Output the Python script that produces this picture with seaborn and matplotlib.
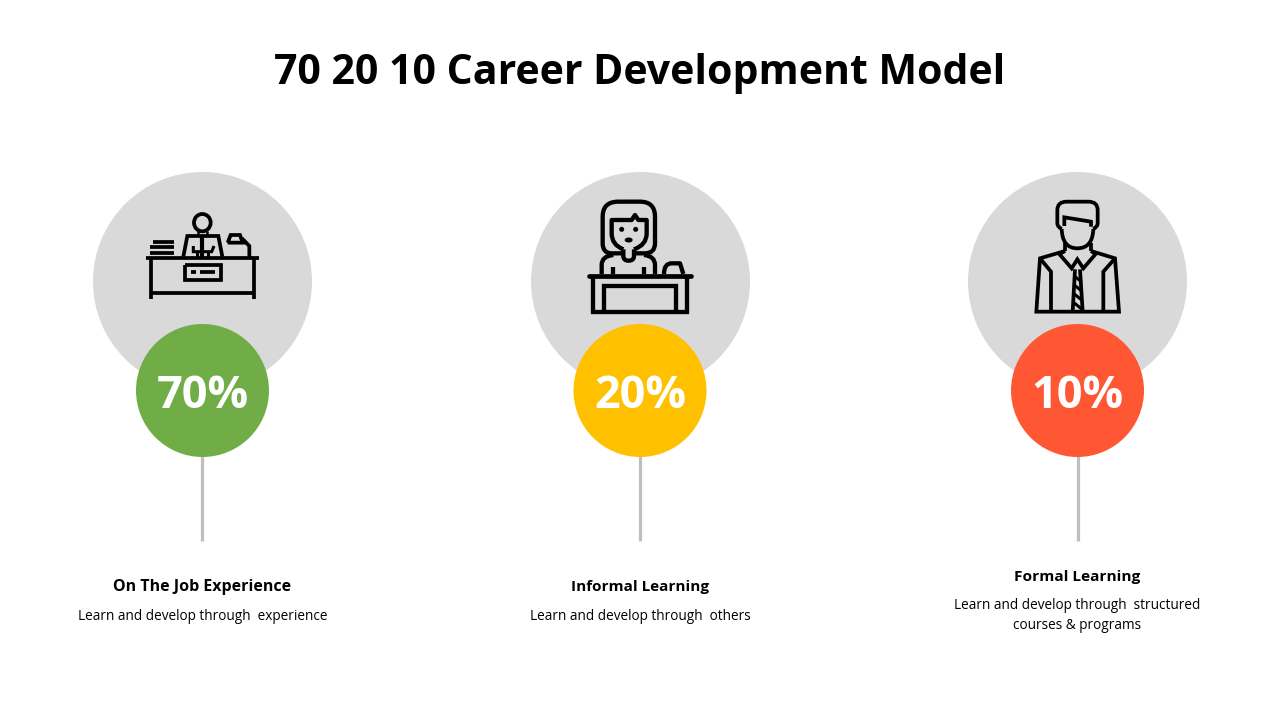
#!/usr/bin/env python3
"""70 20 10 career development infographic, drawn on a pixel-sized axes."""

import matplotlib.pyplot as plt
import pandas as pd
import seaborn as sns
from matplotlib.patches import Ellipse, PathPatch
from matplotlib.path import Path

# ── Data ───────────────────────────────────────────────
TITLE = "70 20 10 Career Development Model"
SHARES = [70, 20, 10]
HEADINGS = ["On The Job Experience", "Informal Learning", "Formal Learning"]
DESCRIPTIONS = [
    "Learn and develop through  experience",
    "Learn and develop through  others",
    "Learn and develop through  structured\ncourses & programs",
]

# ── Layout (pixels) ────────────────────────────────────
COLORS = ["#70AD47", "#FFC000", "#FF5733"]
GREY = "#D9D9D9"
STEM = "#BFBFBF"
CENTERS = [202.5, 640, 1077.5]
BIG_CENTERS = [202, 639.7, 1077]
STEM_X = [202, 640, 1078]
BIG_Y, SMALL_Y = 280.6, 390.5
BIG_D, SMALL_D = 219, 133
HEADING_Y = [587, 587, 577]
HEADING_SIZE = [11.55, 11.0, 11.1]
DESC_Y = [616, 616, 615.5]
FONT = "Open Sans"
PT = 0.72  # points per pixel at dpi 100
M, L, C = Path.MOVETO, Path.LINETO, Path.CURVE3


def poly(ax, pts, origin, lw=2.7, close=False, cap="butt"):
    xs = [origin[0] + p[0] / 3 for p in pts]
    ys = [origin[1] + p[1] / 3 for p in pts]
    if close:
        xs.append(xs[0])
        ys.append(ys[0])
    ax.plot(xs, ys, color="black", lw=lw, solid_capstyle=cap, solid_joinstyle="miter", zorder=3)


def curve(ax, verts, codes, origin, lw=2.7):
    pts = [(origin[0] + v[0] / 3, origin[1] + v[1] / 3) for v in verts]
    patch = PathPatch(Path(pts, codes), fc="none", ec="black", lw=lw, zorder=3, joinstyle="round")
    ax.add_patch(patch)


def desk_icon(ax):
    o = (90, 170)
    poly(ax, [(168, 264), (507, 264)], o)
    poly(ax, [(183, 264), (183, 386)], o)
    poly(ax, [(491, 264), (491, 386)], o)
    poly(ax, [(183, 370), (491, 370)], o)
    poly(ax, [(284, 284), (392, 284), (392, 330), (284, 330)], o, close=True)
    poly(ax, [(303, 306), (317, 306)], o)
    poly(ax, [(330, 306), (375, 306)], o)
    ax.add_patch(Ellipse((90 + 337 / 3, 170 + 158 / 3), 50 / 3, 52 / 3, fc="none", ec="black", lw=2.7, zorder=3))
    poly(ax, [(324, 184), (324, 198)], o, lw=1.8)
    poly(ax, [(351, 184), (351, 198)], o, lw=1.8)
    poly(ax, [(280, 260), (292, 198), (385, 198), (397, 260)], o)
    poly(ax, [(337, 198), (337, 262)], o, lw=3.0)
    poly(ax, [(310, 228), (310, 245), (365, 245), (372, 228)], o, lw=2.2)
    poly(ax, [(320, 245), (320, 262)], o, lw=2.2)
    poly(ax, [(355, 245), (355, 262)], o, lw=2.2)
    for y, x0 in [(215, 190), (232, 180), (249, 180)]:
        poly(ax, [(x0, y), (252, y)], o)
    poly(ax, [(413, 218), (422, 195), (450, 195), (458, 218)], o, close=True)
    poly(ax, [(456, 205), (478, 228), (478, 262)], o)


def woman_icon(ax):
    o = (530, 170)
    lw = 3.1
    # hair, open at the bottom around the neck
    curve(ax, [(278, 250), (245, 250), (218, 250), (218, 220), (218, 140), (218, 95), (265, 95),
               (330, 95), (375, 95), (375, 140), (375, 220), (375, 250), (345, 250), (314, 250)],
          [M, L, C, C, L, C, C, L, C, C, L, C, C, L], o, lw=lw)
    # face with fringe
    curve(ax, [(280, 238), (245, 225), (245, 190), (245, 150), (305, 150), (315, 135), (325, 150),
               (350, 150), (350, 190), (350, 225), (312, 238)],
          [M, C, C, L, L, L, L, L, L, C, C], o, lw=lw)
    ax.add_patch(Ellipse((o[0] + 275 / 3, o[1] + 178 / 3), 5, 5, fc="black", ec="none", zorder=3))
    ax.add_patch(Ellipse((o[0] + 317 / 3, o[1] + 178 / 3), 5, 5, fc="black", ec="none", zorder=3))
    ax.add_patch(Ellipse((o[0] + 296 / 3, o[1] + 210 / 3), 8, 5, fc="black", ec="none", zorder=3))
    curve(ax, [(280, 238), (280, 258), (280, 272), (296, 272), (312, 272), (312, 258), (312, 238)],
          [M, L, C, C, C, C, L], o, lw=lw)
    curve(ax, [(215, 312), (215, 285), (215, 258), (250, 255)], [M, L, C, C], o, lw=lw)
    curve(ax, [(375, 312), (375, 285), (375, 258), (342, 255)], [M, L, C, C], o, lw=lw)
    poly(ax, [(250, 292), (250, 312)], o, lw=lw)
    poly(ax, [(342, 292), (342, 312)], o, lw=lw)
    poly(ax, [(178, 318), (482, 318)], o, lw=3.4, cap="round")
    poly(ax, [(190, 318), (190, 425), (470, 425), (470, 318)], o, lw=lw)
    poly(ax, [(222, 425), (222, 348), (438, 348), (438, 425)], o, lw=lw)
    curve(ax, [(402, 312), (402, 280), (425, 280), (450, 280), (460, 312)], [M, C, C, L, L], o, lw=lw)


def man_icon(ax):
    o = (965, 170)
    curve(ax, [(290, 177), (277, 170), (277, 160), (277, 120), (277, 95), (305, 95), (370, 95),
               (398, 95), (398, 120), (398, 160), (398, 170), (385, 177)],
          [M, C, C, L, C, C, L, C, C, L, C, C], o)
    poly(ax, [(298, 168), (298, 142), (378, 155), (378, 170)], o)
    curve(ax, [(290, 177), (292, 235), (337, 235), (383, 235), (385, 177)], [M, C, C, C, C], o)
    poly(ax, [(300, 218), (300, 243)], o)
    poly(ax, [(378, 218), (378, 243)], o)
    poly(ax, [(300, 243), (225, 265), (214, 425), (462, 425), (450, 265), (378, 243)], o)
    poly(ax, [(300, 243), (283, 252), (320, 295), (337, 268), (355, 295), (392, 252), (378, 243)], o)
    poly(ax, [(225, 265), (258, 305), (258, 425)], o)
    poly(ax, [(450, 265), (415, 305), (415, 425)], o)
    poly(ax, [(330, 298), (323, 425)], o)
    poly(ax, [(345, 298), (353, 425)], o)
    for y in [318, 345, 372, 399]:
        poly(ax, [(328, y), (350, y + 18)], o, lw=2.2)


def main():
    sns.set_theme(style="white")
    plt.rcParams["font.family"] = [FONT, "DejaVu Sans"]

    fig = plt.figure(figsize=(12.8, 7.2), dpi=100)
    ax = fig.add_axes([0, 0, 1, 1])
    ax.axis("off")

    df = pd.DataFrame({"share": SHARES, "x": CENTERS, "big_x": BIG_CENTERS})
    df["label"] = [f"{s}%" for s in SHARES]

    for x in STEM_X:
        ax.plot([x, x], [SMALL_Y, 541], color=STEM, lw=2.3, solid_capstyle="butt", zorder=1)

    sns.scatterplot(data=df, x="big_x", y=[BIG_Y] * 3, s=(BIG_D * PT) ** 2, color=GREY,
                    linewidth=0, legend=False, ax=ax, zorder=2)
    sns.scatterplot(data=df, x="x", y=[SMALL_Y] * 3, hue="label", palette=dict(zip(df["label"], COLORS)),
                    s=(SMALL_D * PT) ** 2, linewidth=0, legend=False, ax=ax, zorder=4)
    ax.set_xlim(0, 1280)
    ax.set_ylim(720, 0)

    desk_icon(ax)
    woman_icon(ax)
    man_icon(ax)

    ax.text(640, 73, TITLE, ha="center", va="center", fontsize=29.5, fontweight="bold", color="black")
    for i, x in enumerate(CENTERS):
        ax.text(x, SMALL_Y + 6, df["label"][i], ha="center", va="center", fontsize=32.5,
                fontweight="bold", color="white", zorder=5)
        ax.text(x, HEADING_Y[i], HEADINGS[i], ha="center", va="center", fontsize=HEADING_SIZE[i],
                fontweight="bold", color="black")
        ax.text(x, DESC_Y[i], DESCRIPTIONS[i], ha="center", va="center",
                fontsize=9.8, color="black", linespacing=1.45)

    fig.savefig("out.png", dpi=100)
    plt.close(fig)


if __name__ == "__main__":
    main()
